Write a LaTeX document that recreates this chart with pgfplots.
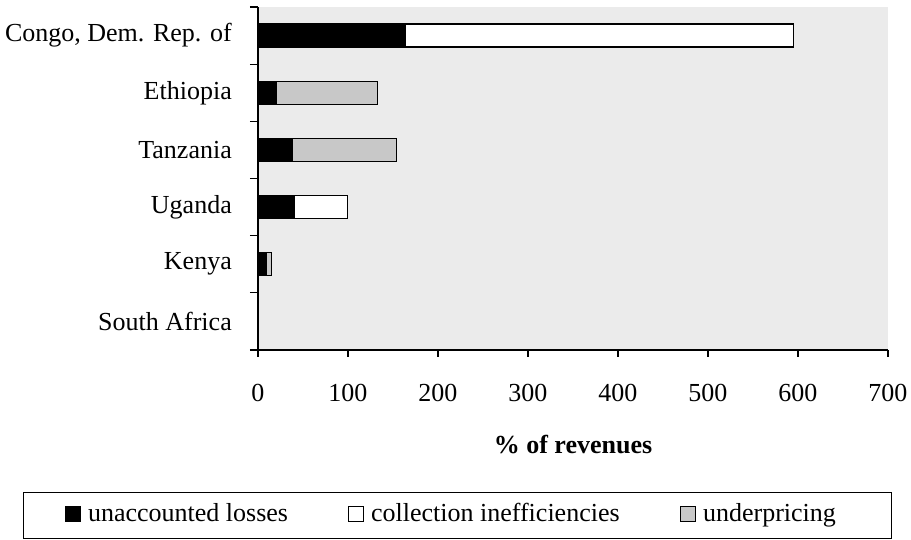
\documentclass[border=0pt]{standalone}
\usepackage{fontspec}
\setmainfont{Liberation Serif}
\usepackage{pgfplots}
\pgfplotsset{compat=1.18}
\definecolor{bggray}{RGB}{235,235,235}
\definecolor{underp}{RGB}{200,200,200}

\begin{document}
\fontsize{26}{31}\selectfont
\begin{tikzpicture}
\path[use as bounding box] (-258pt,-190pt) rectangle (653pt,350pt);
\begin{axis}[
    at={(0pt,0pt)}, anchor=south west,
    scale only axis, width=630pt, height=343pt,
    xbar stacked, bar width=23pt,
    xmin=0, xmax=700, ymin=-0.5, ymax=5.5,
    axis lines*=left,
    axis line style={black, line width=1.2pt},
    axis background/.style={fill=bggray},
    xtick={0,100,...,700},
    ytick={0,...,5},
    yticklabels={South Africa, Kenya, Uganda, Tanzania, Ethiopia, {Congo, Dem. Rep. of}},
    minor ytick={-0.5,0.5,...,5.5},
    tick align=outside,
    major tick length=7pt, minor tick length=8pt,
    every tick/.style={black, line width=1.2pt},
    major y tick style={draw=none},
    /pgf/number format/assume math mode=true,
    yticklabel style={anchor=east, inner sep=0pt, xshift=-19pt},
    xticklabel style={anchor=center, yshift=-36pt},
    xlabel={\% of revenues},
    xlabel style={font=\bfseries, at={(axis description cs:0.5,0)}, anchor=center, yshift=-95pt},
    legend columns=3,
    legend style={at={(axis description cs:0.316,-0.4825)}, anchor=center,
        draw=black, line width=1pt, inner xsep=42pt, inner ysep=11pt,
        nodes={inner sep=0pt, text height=18pt, text depth=6pt},
        /tikz/every even column/.append style={column sep=42pt},
        /tikz/every odd column/.append style={column sep=7pt}},
    legend image code/.code={\draw[#1, draw=black, line width=1pt] (0pt,-6.5pt) rectangle (15pt,8.5pt);},
]
\addplot[fill=black, draw=black, line width=1.2pt] coordinates {
    (0.6,0) (8.5,1) (41,2) (38.5,3) (20,4) (164,5)};
\addplot[fill=white, draw=black, line width=1.2pt] coordinates {
    (0,0) (0.5,1) (58.7,2) (0,3) (0,4) (431,5)};
\addplot[fill=underp, draw=black, line width=1.2pt] coordinates {
    (0,0) (5.8,1) (0,2) (115.5,3) (113,4) (0,5)};
\legend{\makebox[218pt][l]{unaccounted losses},
    \makebox[267pt][l]{collection inefficiencies},
    \makebox[146pt][l]{underpricing}}
\end{axis}
\end{tikzpicture}
\end{document}
